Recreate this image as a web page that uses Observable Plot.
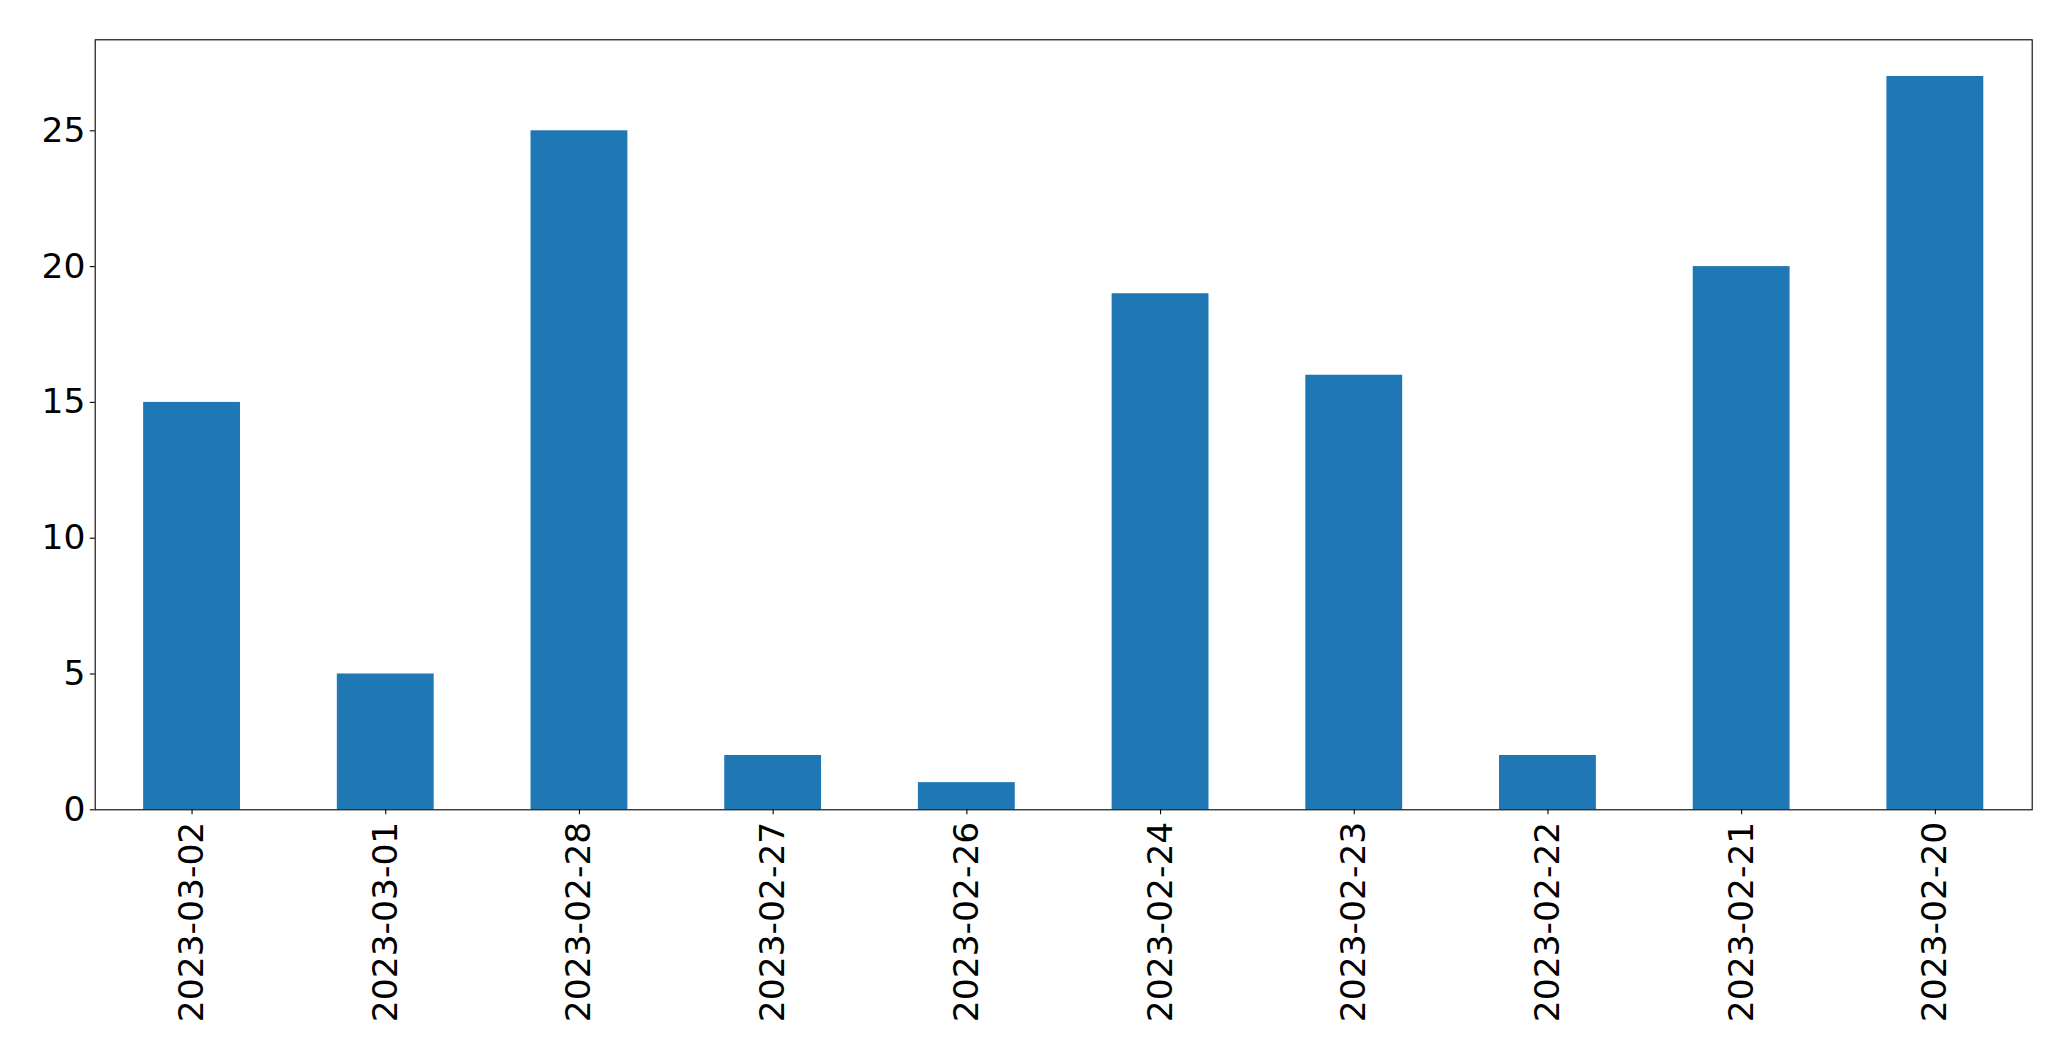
<!DOCTYPE html>
<html>
<head>
<meta charset="utf-8">
<script src="https://cdn.jsdelivr.net/npm/d3@7"></script>
<script src="https://cdn.jsdelivr.net/npm/@observablehq/plot@0.6"></script>
<style>
  html, body { margin: 0; padding: 0; background: #fff; }
  #chart svg { display: block; }
</style>
</head>
<body>
<div id="chart"></div>
<script>
const dates = ["2023-03-02","2023-03-01","2023-02-28","2023-02-27","2023-02-26","2023-02-24","2023-02-23","2023-02-22","2023-02-21","2023-02-20"];
const counts = [15, 5, 25, 2, 1, 19, 16, 2, 20, 27];
const yTicks = [0, 5, 10, 15, 20, 25];

const data = dates.map((d, i) => ({date: d, count: counts[i]}));
const fs = 34.5;

const chart = Plot.plot({
  width: 2071,
  height: 1061,
  marginLeft: 94.7,
  marginTop: 39.3,
  marginRight: 39.3,
  marginBottom: 251.7,
  style: {fontFamily: "'DejaVu Sans', sans-serif", fontSize: fs + "px", background: "#fff", color: "#000"},
  x: {domain: dates, paddingInner: 0.5, paddingOuter: 0.25, align: 0.5, round: false},
  y: {domain: [0, 28.35]},
  marks: [
    Plot.barY(data, {x: "date", y: "count", fill: "#1f77b4"}),
    Plot.axisX({tickRotate: -90, tickSize: 4.9, tickPadding: 7, fontSize: fs, stroke: "#000", strokeWidth: 1.1, label: null}),
    Plot.axisY({ticks: yTicks, tickSize: 4.9, tickPadding: 4.9, fontSize: fs, stroke: "#000", strokeWidth: 1.1, label: null}),
    Plot.frame({stroke: "#000", strokeWidth: 1.1})
  ]
});
document.getElementById("chart").appendChild(chart);
</script>
</body>
</html>
